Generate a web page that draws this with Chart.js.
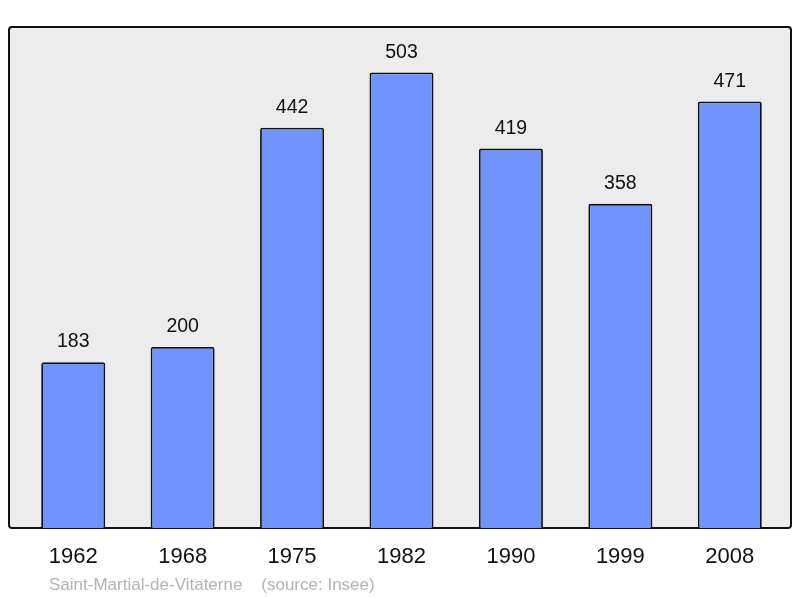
<!DOCTYPE html>
<html>
<head>
<meta charset="utf-8">
<script src="https://cdn.jsdelivr.net/npm/chart.js@4"></script>
<style>
  html, body { margin: 0; padding: 0; background: #fff; }
  #wrap { width: 800px; height: 598px; }
</style>
</head>
<body>
<div id="wrap"><canvas id="popChart"></canvas></div>
<script>
// Population data
const years = ['1962', '1968', '1975', '1982', '1990', '1999', '2008'];
const population = [183, 200, 442, 503, 419, 358, 471];
const sourceText = 'Saint-Martial-de-Vitaterne    (source: Insee)';

// gray frame behind the bars, a bit wider than the chart area
const framePlugin = {
    id: 'frame',
    beforeDatasetsDraw(chart) {
        const { ctx, chartArea } = chart;
        const x = 9, y = chartArea.top;
        const w = 782, h = chartArea.bottom - chartArea.top;
        ctx.save();
        ctx.beginPath();
        ctx.roundRect(x, y, w, h, 3);
        ctx.fillStyle = '#ececec';
        ctx.fill();
        ctx.lineWidth = 2;
        ctx.strokeStyle = '#111';
        ctx.stroke();
        ctx.restore();
    },
    afterDraw(chart) {
        const { ctx } = chart;
        ctx.save();
        ctx.font = "17px 'Liberation Sans', Arial, sans-serif";
        ctx.fillStyle = '#b3b3b3';
        ctx.textBaseline = 'alphabetic';
        ctx.fillText(sourceText, 49, 590);
        ctx.restore();
    }
};

// value above each bar
const valueLabels = {
    id: 'valueLabels',
    afterDatasetsDraw(chart) {
        const { ctx } = chart;
        const meta = chart.getDatasetMeta(0);
        ctx.save();
        ctx.font = "19.5px 'Liberation Sans', Arial, sans-serif";
        ctx.fillStyle = '#111';
        ctx.textAlign = 'center';
        ctx.textBaseline = 'alphabetic';
        meta.data.forEach((bar, i) => {
            ctx.fillText(population[i], bar.x, bar.y - 15);
        });
        ctx.restore();
    }
};

const ctx = document.getElementById('popChart').getContext('2d');
new Chart(ctx, {
    type: 'bar',
    data: {
        labels: years,
        datasets: [{
            data: population,
            backgroundColor: '#7094ff',
            borderColor: '#111',
            borderWidth: 1.8,
            borderRadius: 2,
            borderSkipped: 'bottom',
            barPercentage: 0.585,
            categoryPercentage: 1
        }]
    },
    options: {
        responsive: true,
        maintainAspectRatio: false,
        animation: false,
        layout: {
            padding: { left: 18.5, right: 15.5, top: 27, bottom: 0 }
        },
        plugins: {
            legend: { display: false },
            tooltip: { enabled: false }
        },
        scales: {
            x: {
                grid: { display: false },
                border: { display: false },
                ticks: {
                    color: '#111',
                    padding: 8,
                    font: { size: 22, family: "'Liberation Sans', Arial, sans-serif" }
                },
                afterFit(scale) { scale.height = 70; }
            },
            y: {
                display: false,
                min: 0,
                max: 553.3
            }
        }
    },
    plugins: [framePlugin, valueLabels]
});
</script>
</body>
</html>
